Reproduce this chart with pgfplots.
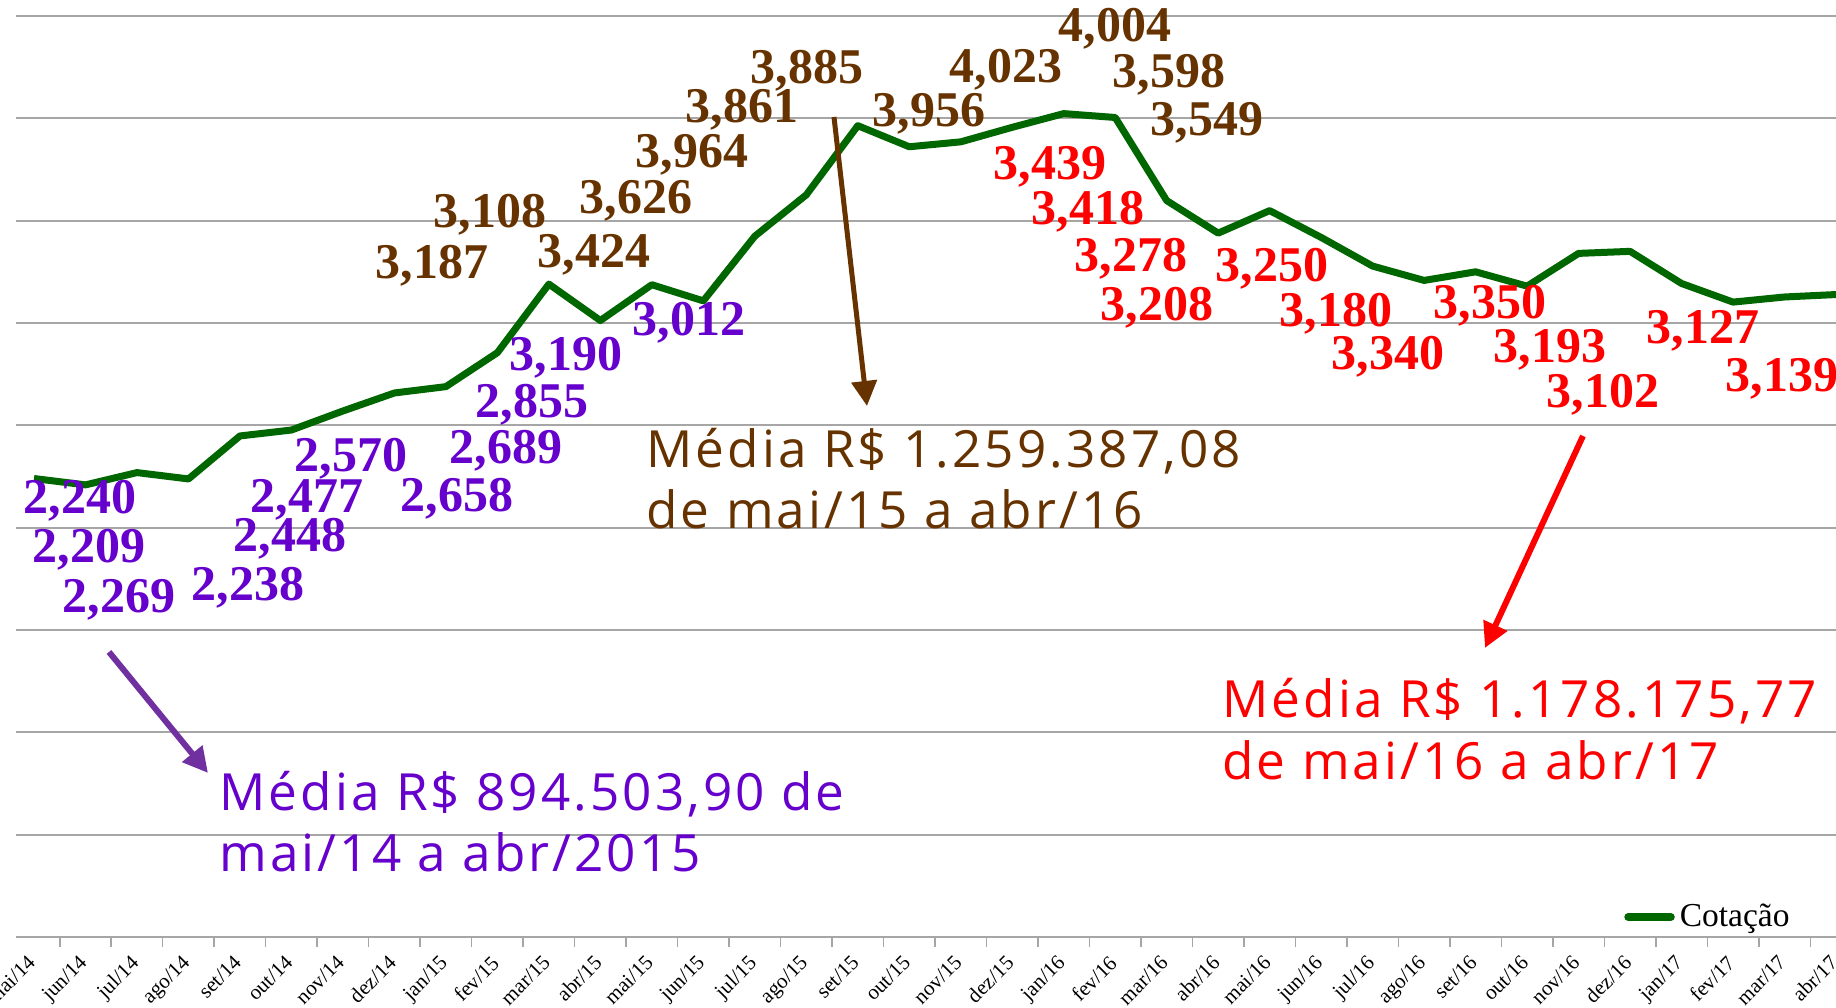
\documentclass[border=0pt]{standalone}
\usepackage{fontspec}
\setmainfont{Liberation Serif}
\newfontfamily\mediafont{Open Sans}[LetterSpace=6]
\usepackage{pgfplots}
\usepackage{pgfplotstable}
\pgfplotsset{compat=1.18}
\usetikzlibrary{arrows.meta}
\definecolor{cgreen}{HTML}{006600}
\definecolor{cpurple}{HTML}{6600CC}
\definecolor{cpurplearrow}{HTML}{7030A0}
\definecolor{cbrown}{HTML}{663300}
\definecolor{cred}{HTML}{FF0000}
\definecolor{cgrid}{HTML}{A6A6A6}

\pgfplotstableread{
i v
0 2.240
1 2.209
2 2.269
3 2.238
4 2.448
5 2.477
6 2.570
7 2.658
8 2.689
9 2.855
10 3.190
11 3.012
12 3.187
13 3.108
14 3.424
15 3.626
16 3.964
17 3.861
18 3.885
19 3.956
20 4.023
21 4.004
22 3.598
23 3.439
24 3.549
25 3.418
26 3.278
27 3.208
28 3.250
29 3.180
30 3.340
31 3.350
32 3.193
33 3.102
34 3.127
35 3.139
}\cotacao

\begin{document}
\begin{tikzpicture}
\begin{axis}[
  at={(6.4pt,28.4pt)}, anchor=south west,
  scale only axis, width=728pt, height=368.4pt,
  xmin=-0.35, xmax=35, ymin=0, ymax=4.5,
  axis line style={draw=none},
  tick pos=left,
  ytick={0,0.5,...,4.5}, yticklabels={},
  ymajorgrids, grid style={cgrid, line width=0.9pt},
  ytick style={draw=none},
  xtick={0,...,35},
  xticklabels={mai/14,jun/14,jul/14,ago/14,set/14,out/14,nov/14,dez/14,jan/15,fev/15,mar/15,abr/15,mai/15,jun/15,jul/15,ago/15,set/15,out/15,nov/15,dez/15,jan/16,fev/16,mar/16,abr/16,mai/16,jun/16,jul/16,ago/16,set/16,out/16,nov/16,dez/16,jan/17,fev/17,mar/17,abr/17},
  minor xtick={0.5,1.5,...,34.5},
  tick align=outside,
  major tick length=0pt, minor tick length=4pt,
  minor x tick style={cgrid, line width=0.6pt},
  xticklabel style={xshift=-3pt, yshift=-6.6pt, rotate=45, anchor=north east, inner sep=0pt, font=\fontsize{8.4}{9}\selectfont},
  clip=false,
  legend style={at={(0.9775,0.0217)}, anchor=east, draw=none, fill=none, inner sep=0pt, font=\fontsize{13.4}{14}\selectfont},
  legend image code/.code={\draw[#1, line width=3.2pt, line cap=round] (0pt,0pt) -- (17pt,0pt);},
]
\addplot[cgreen, line width=2.8pt, line join=round] table[x=i, y=v] {\cotacao};
\addlegendentry{Cotação}
\end{axis}

\begin{scope}[shift={(0pt,403.2pt)}, x=0.4pt, y=-0.4pt]
\tikzset{lab/.style={font=\fontsize{20}{20}\selectfont\bfseries, inner sep=0pt}}
% purple labels
\foreach \px/\py/\t in {80/501/{2,240}, 89/550/{2,209}, 119/600/{2,269}, 248/588/{2,238}, 290/539/{2,448}, 307/500/{2,477}, 351/459/{2,570}, 457/499/{2,658}, 506/451/{2,689}, 532/405/{2,855}, 566/358/{3,190}, 689/323/{3,012}}
  \node[lab, text=cpurple] at (\px,\py) {\t};
% brown labels
\foreach \px/\py/\t in {432/266/{3,187}, 490/215/{3,108}, 594/255/{3,424}, 636/201/{3,626}, 692/155/{3,964}, 742/110/{3,861}, 807/71/{3,885}, 929/114/{3,956}, 1006/70/{4,023}, 1115/29/{4,004}, 1169/75/{3,598}, 1207/123/{3,549}}
  \node[lab, text=cbrown] at (\px,\py) {\t};
% red labels
\foreach \px/\py/\t in {1050/167/{3,439}, 1088/212/{3,418}, 1131/259/{3,278}, 1157/308/{3,208}, 1272/269/{3,250}, 1336/314/{3,180}, 1388/357/{3,340}, 1490/306/{3,350}, 1550/350/{3,193}, 1603/395/{3,102}, 1703/331/{3,127}, 1782/379/{3,139}}
  \node[lab, text=cred] at (\px,\py) {\t};

% arrows
\draw[cpurplearrow, line width=2.4pt, -{Triangle[length=10pt, width=10pt]}] (109,652) -- (208,773);
\draw[cbrown, line width=2pt, -{Triangle[length=10pt, width=10pt]}] (834,117) -- (867,406);
\draw[cred, line width=2.4pt, -{Triangle[length=10pt, width=10pt]}] (1583,436) -- (1485,648);

% average texts
\tikzset{med/.style={font=\mediafont\fontsize{20.5}{20.5}\selectfont, inner sep=0pt, anchor=base west}}
\node[med, text=cbrown] at (646,468) {Média R\$ 1.259.387,08};
\node[med, text=cbrown] at (646,529) {de mai/15 a abr/16};
\node[med, text=cpurple] at (219,811) {Média R\$ 894.503,90 de};
\node[med, text=cpurple] at (219,872) {mai/14 a abr/2015};
\node[med, text=cred] at (1222,718) {Média R\$ 1.178.175,77};
\node[med, text=cred] at (1222,780) {de mai/16 a abr/17};
\end{scope}

\pgfresetboundingbox
\useasboundingbox (0pt,0pt) rectangle (734.4pt,403.2pt);
\end{tikzpicture}
\end{document}
